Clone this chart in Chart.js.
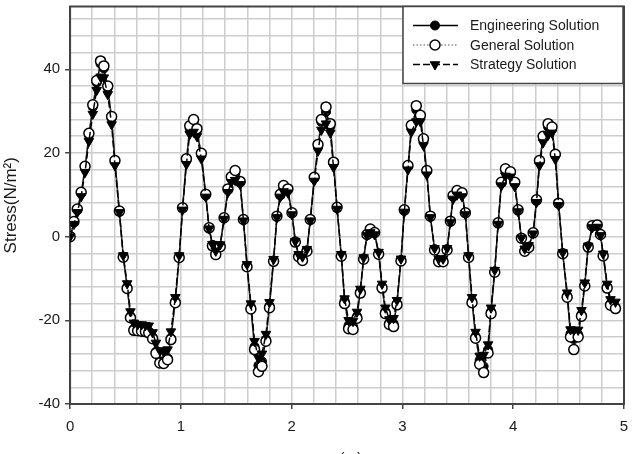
<!DOCTYPE html>
<html>
<head>
<meta charset="utf-8">
<script src="https://cdn.jsdelivr.net/npm/chart.js@4.4.1/dist/chart.umd.min.js"></script>
<style>
  html, body { margin: 0; padding: 0; background: #fff; overflow: hidden; }
  #wrap { width: 633px; height: 472px; }
</style>
</head>
<body>
<div id="wrap"><canvas id="chart"></canvas></div>
<script>
// values
const xValues = [
    0.000, 0.035, 0.065, 0.100, 0.135, 0.170, 0.205, 0.240, 0.275, 0.305,
    0.340, 0.375, 0.405, 0.445, 0.480, 0.515, 0.545, 0.575, 0.610, 0.645,
    0.680, 0.710, 0.745, 0.775, 0.810, 0.845, 0.880, 0.910, 0.950, 0.985,
    1.015, 1.050, 1.080, 1.115, 1.145, 1.185, 1.225, 1.255, 1.285, 1.315,
    1.355, 1.390, 1.425, 1.455, 1.490, 1.535, 1.565, 1.597, 1.632, 1.665,
    1.700, 1.732, 1.768, 1.800, 1.837, 1.867, 1.897, 1.927, 1.966, 2.003,
    2.033, 2.063, 2.098, 2.138, 2.168, 2.204, 2.238, 2.268, 2.310, 2.349,
    2.378, 2.410, 2.448, 2.478, 2.514, 2.554, 2.590, 2.620, 2.650, 2.680,
    2.710, 2.749, 2.785, 2.816, 2.846, 2.882, 2.920, 2.951, 2.987, 3.017,
    3.050, 3.080, 3.125, 3.162, 3.190, 3.220, 3.252, 3.290, 3.327, 3.367,
    3.403, 3.433, 3.457, 3.493, 3.538, 3.568, 3.597, 3.628, 3.660, 3.697,
    3.733, 3.773, 3.800, 3.833, 3.864, 3.893, 3.930, 3.975, 4.014, 4.044,
    4.074, 4.104, 4.140, 4.180, 4.210, 4.237, 4.270, 4.315, 4.350, 4.380,
    4.410, 4.447, 4.487, 4.517, 4.547, 4.586, 4.616, 4.646, 4.677, 4.713,
    4.758, 4.788, 4.812, 4.848, 4.878, 4.923
];
const engineering = [
    0.0, 3.4, 6.3, 10.3, 16.4, 24.2, 31.0, 36.8, 41.3, 40.2,
    35.5, 28.3, 18.0, 6.1, -4.8, -12.0, -19.0, -22.0, -22.2, -22.3,
    -22.4, -22.6, -24.0, -27.5, -29.8, -29.8, -29.0, -24.2, -15.4, -4.8,
    6.7, 18.2, 25.8, 27.3, 25.3, 19.6, 9.9, 2.0, -2.0, -3.8,
    -2.2, 4.4, 11.1, 13.9, 15.0, 12.9, 4.0, -7.0, -16.8, -26.3,
    -30.8, -29.8, -24.5, -16.5, -5.7, 4.8, 9.9, 11.6, 11.1, 5.6,
    -1.2, -4.6, -5.3, -3.3, 4.0, 13.9, 21.6, 27.4, 29.8, 26.3,
    17.5, 6.9, -4.5, -15.3, -21.2, -21.5, -19.0, -13.1, -5.2, 0.4,
    1.5, 0.8, -4.0, -11.9, -17.9, -20.6, -20.8, -15.9, -5.6, 6.2,
    16.7, 26.0, 30.3, 28.6, 23.0, 15.5, 4.8, -3.0, -5.6, -5.6,
    -3.0, 3.6, 9.5, 10.6, 10.2, 5.6, -4.8, -15.3, -23.8, -29.5,
    -31.0, -27.0, -17.9, -8.3, 3.2, 12.7, 15.5, 15.1, 12.7, 6.3,
    -0.4, -3.2, -2.4, 0.8, 8.6, 17.9, 23.5, 26.2, 25.6, 19.4,
    7.9, -4.0, -14.1, -23.2, -24.5, -23.4, -18.6, -11.5, -2.4, 2.4,
    2.6, 0.4, -4.4, -11.9, -16.0, -16.8
];
const general = [
    0.0, 3.6, 6.6, 10.6, 16.8, 24.7, 31.5, 37.3, 42.0, 40.8,
    36.0, 28.7, 18.2, 6.1, -4.9, -12.4, -19.4, -22.4, -22.5, -22.6,
    -22.7, -23.0, -24.4, -27.9, -30.2, -30.3, -29.4, -24.6, -15.8, -5.0,
    6.9, 18.6, 26.5, 28.0, 25.8, 19.9, 10.1, 2.1, -2.2, -4.3,
    -2.4, 4.5, 11.4, 14.3, 15.8, 13.2, 4.1, -7.2, -17.3, -27.0,
    -32.3, -31.0, -25.0, -17.0, -5.9, 4.9, 10.1, 12.2, 11.4, 5.7,
    -1.3, -4.8, -5.7, -3.5, 4.1, 14.2, 22.0, 28.0, 31.0, 27.0,
    17.8, 7.0, -4.7, -16.0, -22.0, -22.2, -19.5, -13.5, -5.4, 0.5,
    1.8, 1.0, -4.2, -12.3, -18.4, -21.0, -21.5, -16.3, -5.8, 6.4,
    17.0, 26.6, 31.3, 29.0, 23.4, 15.8, 4.9, -3.2, -6.0, -6.0,
    -3.2, 3.7, 9.8, 11.0, 10.5, 5.7, -5.0, -15.8, -24.3, -30.5,
    -32.5, -27.8, -18.4, -8.5, 3.3, 13.0, 16.2, 15.5, 13.0, 6.4,
    -0.4, -3.5, -2.6, 0.9, 8.8, 18.2, 24.0, 27.0, 26.2, 19.7,
    8.0, -4.1, -14.5, -24.0, -27.0, -24.0, -19.0, -11.8, -2.5, 2.6,
    2.8, 0.5, -4.6, -12.3, -16.4, -17.2
];
const strategy = [
    0.0, 3.0, 5.8, 9.6, 15.4, 22.8, 29.3, 35.0, 38.2, 38.0,
    34.0, 26.8, 17.0, 5.8, -4.5, -11.2, -17.9, -20.6, -21.0, -21.0,
    -21.2, -21.3, -22.9, -25.4, -27.2, -27.5, -27.0, -22.7, -14.5, -4.5,
    6.4, 17.3, 24.5, 25.0, 24.0, 18.6, 9.5, 1.9, -1.8, -3.4,
    -1.9, 4.2, 10.6, 13.0, 13.5, 12.5, 3.8, -6.6, -16.0, -25.0,
    -29.0, -28.0, -23.3, -15.7, -5.4, 4.6, 9.5, 10.8, 10.5, 5.3,
    -1.1, -4.2, -4.8, -3.0, 3.8, 13.3, 20.5, 25.5, 27.0, 24.8,
    16.6, 6.6, -4.2, -14.8, -20.0, -20.2, -18.0, -12.5, -5.0, 0.3,
    1.0, 0.5, -3.7, -11.3, -17.0, -19.8, -19.5, -15.2, -5.3, 5.9,
    16.0, 25.0, 27.5, 27.5, 21.8, 14.8, 4.6, -2.8, -5.3, -5.3,
    -2.8, 3.4, 9.0, 10.0, 9.6, 5.3, -4.5, -14.5, -22.8, -28.5,
    -28.3, -25.8, -17.0, -8.0, 3.0, 12.2, 14.5, 14.3, 12.0, 6.0,
    -0.3, -2.9, -2.1, 0.7, 8.2, 17.0, 22.5, 24.3, 24.8, 18.5,
    7.5, -3.8, -13.4, -22.2, -22.3, -22.3, -17.6, -11.0, -2.2, 2.2,
    2.3, 0.3, -4.1, -11.3, -15.0, -15.6
];
const seriesNames = ["Engineering Solution", "General Solution", "Strategy Solution"];

// axis ticks: grid every 0.2 / 4, labels only on these
const xTickLabels = [0, 1, 2, 3, 4, 5];
const yTickLabels = [-40, -20, 0, 20, 40];
const xGrid = [0, 0.2, 0.4, 0.6, 0.8, 1, 1.2, 1.4, 1.6, 1.8, 2, 2.2, 2.4, 2.6, 2.8,
    3, 3.2, 3.4, 3.6, 3.8, 4, 4.2, 4.4, 4.6, 4.8, 5];
const yGrid = [-40, -36, -32, -28, -24, -20, -16, -12, -8, -4, 0, 4, 8, 12, 16,
    20, 24, 28, 32, 36, 40, 44, 48, 52];

const FONT = "'Liberation Sans', Arial, sans-serif";
const TEXT_COLOR = "#1a1a1a";
const GRID_COLOR = "#cdcdcd";
const FRAME_COLOR = "#444";

function toPoints(ys) {
    return xValues.map((x, i) => ({ x, y: ys[i] }));
}

// drop the extra room chart.js keeps for the end labels, layout padding decides instead
function noEdgePadding(axis) {
    axis.paddingTop = 0;
    axis.paddingBottom = 0;
    axis.paddingLeft = 0;
    axis.paddingRight = 0;
}

function drawMarker(ctx, ds, x, y) {
    ctx.save();
    ctx.setLineDash([]);
    ctx.lineWidth = ds.pointBorderWidth;
    ctx.strokeStyle = ds.pointBorderColor;
    ctx.fillStyle = ds.pointBackgroundColor;
    const r = ds.pointRadius;
    ctx.beginPath();
    if (ds.pointStyle === "triangle") {
        // pointing down
        ctx.moveTo(x - r * 0.866, y - r * 0.5);
        ctx.lineTo(x + r * 0.866, y - r * 0.5);
        ctx.lineTo(x, y + r);
        ctx.closePath();
    } else {
        ctx.arc(x, y, r, 0, Math.PI * 2);
    }
    ctx.fill();
    ctx.stroke();
    ctx.restore();
}

// plot frame on all four sides
const frame = {
    id: "frame",
    beforeDatasetsDraw(chart) {
        const { ctx, chartArea: a } = chart;
        ctx.save();
        ctx.strokeStyle = FRAME_COLOR;
        ctx.lineWidth = 2;
        ctx.strokeRect(a.left, a.top, a.right - a.left, a.bottom - a.top);
        ctx.restore();
    },
};

// boxed legend in the top right corner of the plot
const legendBox = {
    id: "legendBox",
    afterDraw(chart) {
        const { ctx, chartArea: a } = chart;
        const w = 220;
        const h = 77;
        const left = a.right - w - 1;
        const top = a.top;
        ctx.save();
        ctx.fillStyle = "#fff";
        ctx.fillRect(left, top, w, h);
        ctx.strokeStyle = FRAME_COLOR;
        ctx.lineWidth = 1.5;
        ctx.strokeRect(left, top, w, h);
        chart.data.datasets.forEach((ds, i) => {
            const y = top + 19 + i * 19.5;
            ctx.save();
            ctx.strokeStyle = ds.borderColor;
            ctx.lineWidth = ds.legendLineWidth;
            ctx.setLineDash(ds.borderDash || []);
            ctx.beginPath();
            ctx.moveTo(left + 10, y);
            ctx.lineTo(left + 55, y);
            ctx.stroke();
            ctx.restore();
            drawMarker(ctx, ds, left + 32, y);
            ctx.fillStyle = TEXT_COLOR;
            ctx.font = "14px " + FONT;
            ctx.textBaseline = "middle";
            ctx.fillText(ds.label, left + 67, y + 1);
        });
        ctx.restore();
    },
};

new Chart(document.getElementById("chart"), {
    type: "line",
    data: {
        datasets: [
            {
                label: seriesNames[0],
                data: toPoints(engineering),
                borderColor: "#000",
                borderWidth: 1.5,
                legendLineWidth: 1.5,
                pointStyle: "circle",
                pointRadius: 4.5,
                pointBackgroundColor: "#000",
                pointBorderColor: "#000",
                pointBorderWidth: 1,
                order: 3,
            },
            {
                label: seriesNames[1],
                data: toPoints(general),
                borderColor: "#555",
                borderWidth: 1,
                borderDash: [1.5, 2],
                legendLineWidth: 1,
                pointStyle: "circle",
                pointRadius: 5,
                pointBackgroundColor: "#fff",
                pointBorderColor: "#000",
                pointBorderWidth: 1.5,
                order: 2,
            },
            {
                label: seriesNames[2],
                data: toPoints(strategy),
                borderColor: "#000",
                borderWidth: 1.5,
                borderDash: [7, 3],
                legendLineWidth: 1.5,
                pointStyle: "triangle",
                pointRotation: 180,
                pointRadius: 5.5,
                pointBackgroundColor: "#000",
                pointBorderColor: "#000",
                pointBorderWidth: 1,
                order: 1,
            },
        ],
    },
    options: {
        responsive: true,
        maintainAspectRatio: false,
        animation: false,
        layout: { padding: { top: 5, right: 9, bottom: 3, left: 0 } },
        elements: { line: { tension: 0 } },
        plugins: {
            legend: { display: false },
            tooltip: { enabled: false },
        },
        scales: {
            x: {
                type: "linear",
                min: 0,
                max: 5,
                afterBuildTicks: (axis) => {
                    axis.ticks = xGrid.map((v) => ({ value: v }));
                },
                afterFit: noEdgePadding,
                ticks: {
                    autoSkip: false,
                    maxRotation: 0,
                    padding: 9,
                    color: TEXT_COLOR,
                    font: { family: FONT, size: 15 },
                    callback: (v) => (xTickLabels.includes(v) ? String(v) : ""),
                },
                grid: {
                    color: GRID_COLOR,
                    lineWidth: 1.5,
                    tickLength: 5,
                    tickWidth: 1.5,
                    tickColor: (c) => (xTickLabels.includes(c.tick.value) ? FRAME_COLOR : "rgba(0,0,0,0)"),
                },
                border: { color: FRAME_COLOR, width: 2 },
                title: {
                    display: true,
                    text: "x(m)",
                    color: TEXT_COLOR,
                    font: { family: FONT, size: 15 },
                    padding: { top: 5, bottom: 1 },
                },
            },
            y: {
                type: "linear",
                min: -40,
                max: 55,
                afterBuildTicks: (axis) => {
                    axis.ticks = yGrid.map((v) => ({ value: v }));
                },
                afterFit: noEdgePadding,
                ticks: {
                    autoSkip: false,
                    padding: 5,
                    color: TEXT_COLOR,
                    font: { family: FONT, size: 15 },
                    callback: (v) => (yTickLabels.includes(v) ? String(v) : ""),
                },
                grid: {
                    color: GRID_COLOR,
                    lineWidth: 1.5,
                    tickLength: 5,
                    tickWidth: 1.5,
                    tickColor: (c) => (yTickLabels.includes(c.tick.value) ? FRAME_COLOR : "rgba(0,0,0,0)"),
                },
                border: { color: FRAME_COLOR, width: 2 },
                title: {
                    display: true,
                    text: "Stress(N/m²)",
                    color: TEXT_COLOR,
                    font: { family: FONT, size: 17 },
                    padding: { top: 1, bottom: 12 },
                },
            },
        },
    },
    plugins: [frame, legendBox],
});
</script>
</body>
</html>
